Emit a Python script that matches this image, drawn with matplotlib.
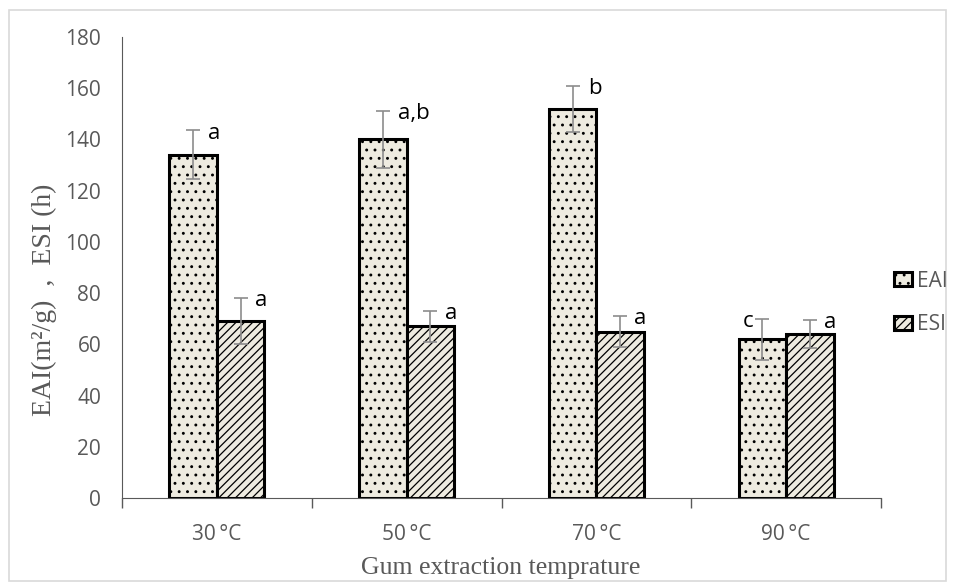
import matplotlib
matplotlib.use("Agg")
import matplotlib.pyplot as plt
import numpy as np

categories = ["30\u2009°C", "50\u2009°C", "70\u2009°C", "90\u2009°C"]
eai = [134, 140, 152, 62]
esi = [69, 67, 65, 64]
eai_err = [9.5, 11, 9, 8]
esi_err = [9, 6, 6, 5.5]
eai_letters = ["a", "a,b", "b", "c"]
esi_letters = ["a", "a", "a", "a"]

plt.rcParams["hatch.linewidth"] = 0.9
plt.rcParams["hatch.color"] = "#1a1a1a"

W, H = 955, 587
fig = plt.figure(figsize=(W / 100, H / 100), dpi=100)
ax = fig.add_axes([122 / W, 1 - 498 / H, (881 - 122) / W, (498 - 37) / H])

x = np.arange(len(categories))
w = 0.25
fill = "#EEEBE0"
grey = "#595959"
sans = "Open Sans"

ax.bar(x - w / 2, eai, w, color=fill, edgecolor="black", linewidth=2.2,
       hatch="..", label="EAI", zorder=2)
ax.bar(x + w / 2, esi, w, color=fill, edgecolor="black", linewidth=2.2,
       hatch="////", label="ESI", zorder=2)

err_kw = dict(fmt="none", ecolor="#8c8c8c", elinewidth=1.2, capsize=4.7,
              capthick=1.2, zorder=3)
ax.errorbar(x - w / 2, eai, yerr=eai_err, **err_kw)
ax.errorbar(x + w / 2, esi, yerr=esi_err, **err_kw)

for i, (v, e, t) in enumerate(zip(eai, eai_err, eai_letters)):
    if t == "c":
        ax.text(x[i] - w / 2 - 0.05, v + e - 1, t, ha="right", va="center",
                fontsize=16, color="black", family=sans)
    else:
        ax.text(x[i] - w / 2 + 0.08, v + e - 1, t, ha="left", va="center",
                fontsize=16, color="black", family=sans)
for i, (v, e, t) in enumerate(zip(esi, esi_err, esi_letters)):
    ax.text(x[i] + w / 2 + 0.075, v + e - 1, t, ha="left", va="center",
            fontsize=16, color="black", family=sans)

ax.set_xlim(-0.5, 3.5)
ax.set_ylim(0, 180)
ax.set_yticks(np.arange(0, 181, 20))
ax.set_xticks(x)
ax.set_xticklabels(categories)
ax.set_xticks(np.arange(-0.5, 3.6, 1), minor=True)
ax.tick_params(axis="x", which="major", length=0, pad=19)
ax.tick_params(axis="x", which="minor", length=7, color=grey, width=1)
ax.tick_params(axis="y", length=0, pad=15)
for lbl in ax.get_xticklabels() + ax.get_yticklabels():
    lbl.set_fontsize(15)
    lbl.set_color(grey)
    lbl.set_family(sans)

for s in ["top", "right"]:
    ax.spines[s].set_visible(False)
ax.spines["left"].set_color(grey)
ax.spines["bottom"].set_color(grey)

fig.text(501 / W, 1 - 568 / H, "Gum extraction temprature", family="Liberation Serif",
         fontsize=18.5, color=grey, ha="center", va="center")
fig.text(44 / W, 1 - 300 / H, "EAI(m²/g)  ,  ESI (h)", family="Liberation Serif",
         fontsize=20, color=grey, ha="center", va="center", rotation=90)

leg = fig.legend(loc="center left", bbox_to_anchor=(884 / W, 1 - 303 / H),
                 frameon=False, fontsize=15, handlelength=0.82, handleheight=0.65,
                 handletextpad=0.25, labelspacing=1.1, labelcolor=grey,
                 borderpad=0)
for t in leg.get_texts():
    t.set_family(sans)

fig.patches.append(plt.Rectangle((9 / W, 1 - 581 / H), (946 - 9) / W, (581 - 10) / H,
                                 transform=fig.transFigure, fill=False,
                                 edgecolor="#d9d9d9", linewidth=1.2))

fig.savefig("out.png", dpi=100)
